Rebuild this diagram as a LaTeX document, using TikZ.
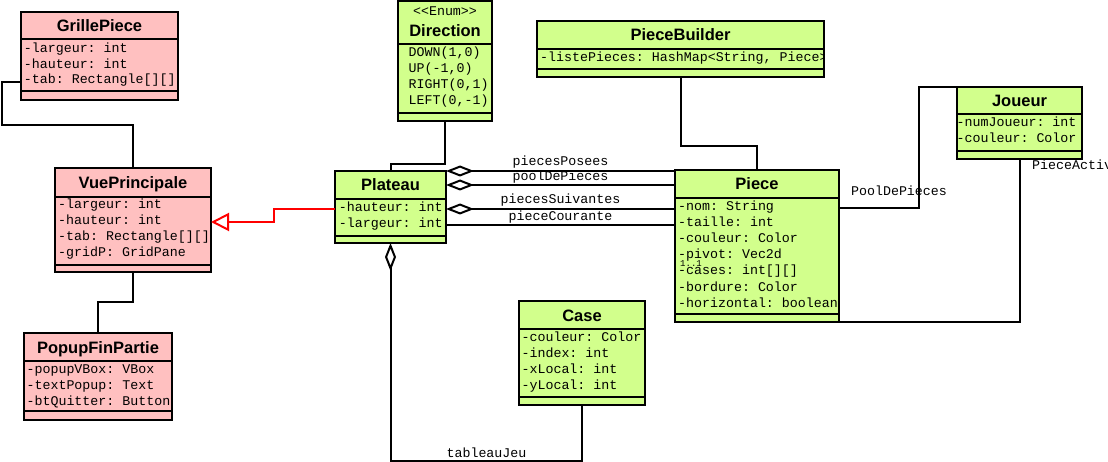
\documentclass[tikz,border=0pt]{standalone}
\usepackage{fontspec}
\setmainfont{Liberation Sans}
\setmonofont{Liberation Mono}
\usetikzlibrary{arrows.meta}
\definecolor{ClassPink}{HTML}{FFC0C0}
\definecolor{ClassGreen}{HTML}{D2FF8C}

\begin{document}
\begin{tikzpicture}[x=1pt, y=-1pt,
  classbox/.style={draw, line width=2pt, inner sep=0pt, outer sep=0pt},
  sepline/.style={line width=2pt},
  classtitle/.style={font=\bfseries\fontsize{16.5}{18}\selectfont, anchor=base, inner sep=0pt},
  attr/.style={font=\ttfamily\fontsize{13.3}{16}\selectfont, anchor=base west, inner sep=0pt},
  lbl/.style={font=\ttfamily\fontsize{13.3}{16}\selectfont, anchor=base, inner sep=0pt},
  link/.style={line width=2pt},
  agg/.style={link, {Diamond[fill=white, length=28pt, width=11pt]}-},
  inherit/.style={red, line width=2pt, -{Triangle[open, length=18pt, width=18pt]}}
]
  \clip (0,0) rectangle (1108,462);

  % view classes
  \node[classbox, fill=ClassPink, minimum width=157, minimum height=88] (grille) at (99.5,56) {};
  \draw[sepline] (grille.west |- 0,39) -- (grille.east |- 0,39) (grille.west |- 0,91) -- (grille.east |- 0,91);
  \node[classtitle] (grille-t) at (grille.north |- 0,31.5) {GrillePiece};
  \foreach \t [count=\i from 0] in {-largeur: int, -hauteur: int, {-tab: Rectangle[][]}}
    \node[attr] (grille-a\i) at (23.7,53+15.5*\i) {\t};

  \node[classbox, fill=ClassPink, minimum width=156, minimum height=104] (vue) at (133,220) {};
  \draw[sepline] (vue.west |- 0,197) -- (vue.east |- 0,197) (vue.west |- 0,265) -- (vue.east |- 0,265);
  \node[classtitle] (vue-t) at (vue.north |- 0,188.5) {VuePrincipale};
  \foreach \t [count=\i from 0] in {-largeur: int, -hauteur: int, {-tab: Rectangle[][]}, -gridP: GridPane}
    \node[attr] (vue-a\i) at (58,209+16*\i) {\t};

  \node[classbox, fill=ClassPink, minimum width=148, minimum height=87] (popup) at (98,376.5) {};
  \draw[sepline] (popup.west |- 0,361) -- (popup.east |- 0,361) (popup.west |- 0,411) -- (popup.east |- 0,411);
  \node[classtitle] (popup-t) at (popup.north |- 0,353) {PopupFinPartie};
  \foreach \t [count=\i from 0] in {-popupVBox: VBox, -textPopup: Text, -btQuitter: Button}
    \node[attr] (popup-a\i) at (26.4,373+16*\i) {\t};

  % model classes
  \node[classbox, fill=ClassGreen, minimum width=94, minimum height=120] (direction) at (445,61) {};
  \draw[sepline] (direction.west |- 0,44) -- (direction.east |- 0,44) (direction.west |- 0,113) -- (direction.east |- 0,113);
  \node[lbl] (direction-s) at (direction.north |- 0,16) {<<Enum>>};
  \node[classtitle] (direction-t) at (direction.north |- 0,37) {Direction};
  \foreach \t [count=\i from 0] in {{DOWN(1,0)}, {UP(-1,0)}, {RIGHT(0,1)}, {LEFT(0,-1)}}
    \node[attr] (direction-a\i) at (408.5,57+16*\i) {\t};

  \node[classbox, fill=ClassGreen, minimum width=111, minimum height=72] (plateau) at (390.5,207) {};
  \draw[sepline] (plateau.west |- 0,199) -- (plateau.east |- 0,199) (plateau.west |- 0,236) -- (plateau.east |- 0,236);
  \node[classtitle] (plateau-t) at (plateau.north |- 0,191) {Plateau};
  \foreach \t [count=\i from 0] in {-hauteur: int, -largeur: int}
    \node[attr] (plateau-a\i) at (338.7,212+16*\i) {\t};

  \node[classbox, fill=ClassGreen, minimum width=287, minimum height=56] (builder) at (680.5,49) {};
  \draw[sepline] (builder.west |- 0,49) -- (builder.east |- 0,49) (builder.west |- 0,69) -- (builder.east |- 0,69);
  \node[classtitle] (builder-t) at (builder.north |- 0,41) {PieceBuilder};
  \begin{scope}
    \clip (537,49) rectangle (823,69);
    \node[attr] (builder-a0) at (540,62) {-listePieces: HashMap<String, Piece>};
  \end{scope}

  \node[classbox, fill=ClassGreen, minimum width=164, minimum height=152] (piece) at (757,246) {};
  \draw[sepline] (piece.west |- 0,198) -- (piece.east |- 0,198) (piece.west |- 0,314) -- (piece.east |- 0,314);
  \node[classtitle] (piece-t) at (piece.north |- 0,189.5) {Piece};
  \foreach \t [count=\i from 0] in {-nom: String, -taille: int, -couleur: Color, -pivot: Vec2d, {-cases: int[][]}, -bordure: Color, -horizontal: boolean}
    \node[attr] (piece-a\i) at (678,211+16*\i) {\t};
  \node[attr, font=\ttfamily\fontsize{9}{10}\selectfont] (piece-m) at (680,267) {1..1};

  \node[classbox, fill=ClassGreen, minimum width=125, minimum height=72] (joueur) at (1019.5,123) {};
  \draw[sepline] (joueur.west |- 0,114) -- (joueur.east |- 0,114) (joueur.west |- 0,151) -- (joueur.east |- 0,151);
  \node[classtitle] (joueur-t) at (joueur.north |- 0,107) {Joueur};
  \foreach \t [count=\i from 0] in {-numJoueur: int, -couleur: Color}
    \node[attr] (joueur-a\i) at (956.5,127+16*\i) {\t};

  \node[classbox, fill=ClassGreen, minimum width=126, minimum height=104] (case) at (582,353) {};
  \draw[sepline] (case.west |- 0,329) -- (case.east |- 0,329) (case.west |- 0,397) -- (case.east |- 0,397);
  \node[classtitle] (case-t) at (case.north |- 0,321) {Case};
  \foreach \t [count=\i from 0] in {-couleur: Color, -index: int, -xLocal: int, -yLocal: int}
    \node[attr] (case-a\i) at (521.4,341+16*\i) {\t};

  % labels
  \node[lbl] (posees) at (560.5,166) {piecesPosees};
  \node[lbl] (pool) at (560.5,181) {poolDePieces};
  \node[lbl] (suivantes) at (560.5,204) {piecesSuivantes};
  \node[lbl] (courante) at (560.5,221) {pieceCourante};
  \node[lbl] (poolj) at (899,196) {PoolDePieces};
  \node[lbl, anchor=base west] (active) at (1032,170) {PieceActive};
  \node[lbl] (jeu) at (486.5,457) {tableauJeu};

  % links
  \draw[link] (grille.west |- 0,82) -| (2,125) -| (vue.north);
  \draw[link] (vue.south) |- (98,302) -- (popup.north);
  \draw[inherit] (plateau.west |- 0,209) -| (274,222) -- (vue.east |- 0,222);
  \draw[link] (direction.south) |- ([yshift=7pt]plateau.north) -- (plateau.north);
  \draw[agg] (plateau.east |- 0,171) -- (piece.west |- 0,171);
  \draw[agg] (plateau.east |- 0,185) -- (piece.west |- 0,185);
  \draw[agg] (plateau.east |- 0,209) -- (piece.west |- 0,209);
  \draw[link] (plateau.east |- 0,225) -- (piece.west |- 0,225);
  \draw[link] (builder.south) |- ([yshift=24pt]piece.north) -- (piece.north);
  \draw[link] (piece.east |- 0,208) -| ([xshift=-38pt]joueur.north west) -- (joueur.north west);
  \draw[link] (joueur.south) |- (piece.south east);
  \draw[agg] (plateau.south) |- ([yshift=-56pt]case.south) -- (case.south);
\end{tikzpicture}
\end{document}
